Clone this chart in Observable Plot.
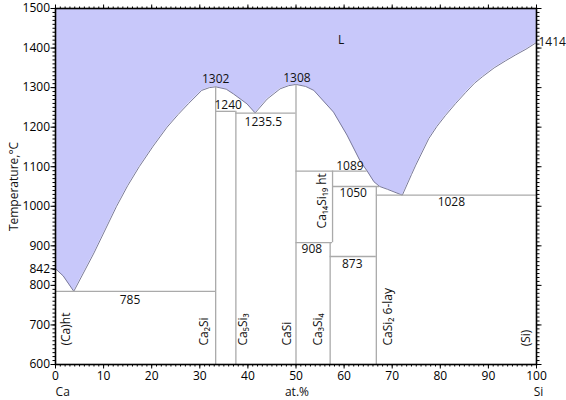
<!DOCTYPE html>
<html>
<head>
<meta charset="utf-8">
<script src="https://cdn.jsdelivr.net/npm/d3@7"></script>
<script src="https://cdn.jsdelivr.net/npm/@observablehq/plot@0.6"></script>
<style>
  body { margin: 0; background: #fff; }
  svg { font-family: "Open Sans", sans-serif; }
</style>
</head>
<body>
<div id="chart"></div>
<script>
// Liquidus curve (at.% Si, °C)
const liqX = [0, 1.6, 3.8, 8, 12.7, 15, 17.4, 20.3, 23.2, 25.5, 27.6, 30.4, 32, 33.3, 35.5, 37, 39.8, 41.5, 44, 46.7, 48.5, 50, 52, 53.7, 57.8, 60.6, 63.4, 64.8, 66.2, 67.4, 69, 71.7, 72.1, 74, 74.9, 77.6, 79.3, 81.1, 83.2, 85.3, 87.1, 88.8, 91.2, 93.6, 95.7, 97.8, 100];
const liqT = [842, 824, 785, 882, 1000, 1052, 1100, 1152, 1200, 1232, 1259, 1293, 1300, 1302, 1296, 1284, 1259, 1236, 1271, 1297, 1305, 1308, 1303, 1293, 1238, 1180, 1113, 1089, 1062, 1050, 1043, 1030, 1028, 1080, 1104, 1171, 1202, 1230, 1260, 1288, 1311, 1328, 1350, 1368, 1383, 1397, 1414];

// Invariant (horizontal) lines
const hT  = [785, 1240, 1235.5, 1089, 1050, 1028, 908, 873];
const hX1 = [0, 33.3, 37.5, 50, 57.6, 66.7, 50, 57.1];
const hX2 = [33.3, 37.5, 50, 64.8, 67.4, 100, 57.6, 66.7];

// Compound (vertical) lines
const vX  = [33.3, 37.5, 50, 57.6, 57.1, 66.7];
const vT1 = [600, 600, 600, 908, 600, 600];
const vT2 = [1302, 1240, 1308, 1089, 908, 1050];

// Temperature labels
const numText = ["1302", "1240", "1235.5", "1308", "1089", "1050", "1028", "908", "873", "785", "L"];
const numX    = [33.3, 35.9, 43.2, 50.2, 61.2, 61.9, 82.3, 53.3, 61.7, 15.5, 59.4];
const numT    = [1322, 1256, 1213, 1324, 1102, 1033, 1011, 891, 853, 763, 1419];

// Phase labels (vertical text)
const phText = ["(Ca)ht", "Ca₂Si", "Ca₅Si₃", "CaSi", "Ca₃Si₄", "Ca₁₄Si₁₉ ht", "CaSi₂ 6-lay", "(Si)"];
const phX    = [2.3, 31.0, 39.0, 48.2, 54.7, 55.4, 69.1, 97.8];
const phT    = [648, 648, 648, 648, 648, 944, 648, 646];

const yTicks = [600, 700, 800, 842, 900, 1000, 1100, 1200, 1300, 1400, 1500];
const xTicks = [0, 10, 20, 30, 40, 50, 60, 70, 80, 90, 100];

const liq = liqX.map((x, i) => ({x, t: liqT[i]}));
const hl = hT.map((t, i) => ({t, x1: hX1[i], x2: hX2[i]}));
const vl = vX.map((x, i) => ({x, t1: vT1[i], t2: vT2[i]}));
const nums = numText.map((s, i) => ({s, x: numX[i], t: numT[i]}));
const phs = phText.map((s, i) => ({s, x: phX[i], t: phT[i]}));

const minorX = d3.range(0, 101, 1);
const minorY = d3.range(600, 1501, 10);
const fs = 12;
const blank = () => "";

const chart = Plot.plot({
  width: 566,
  height: 400,
  marginLeft: 55,
  marginRight: 30,
  marginTop: 8,
  marginBottom: 36,
  style: {color: "black", fontSize: "12px", fontFamily: "Open Sans, sans-serif", background: "white"},
  x: {domain: [0, 100]},
  y: {domain: [600, 1500]},
  marks: [
    Plot.areaY(liq, {x: "x", y1: "t", y2: 1500, fill: "#c8c8fa"}),
    Plot.line(liq, {x: "x", y: "t", stroke: "#7a7a9a", strokeWidth: 1}),
    Plot.ruleY(hl, {y: "t", x1: "x1", x2: "x2", stroke: "#aaaaaa", strokeWidth: 1.3}),
    Plot.ruleX(vl, {x: "x", y1: "t1", y2: "t2", stroke: "#aaaaaa", strokeWidth: 1.3}),
    Plot.text(nums, {x: "x", y: "t", text: "s", fontSize: fs, fill: "#111"}),
    Plot.text(phs, {x: "x", y: "t", text: "s", rotate: -90, textAnchor: "start", fontSize: fs, fill: "#111"}),
    Plot.text(["1414"], {x: 100, y: 1414, text: d => d, dx: 2, textAnchor: "start", fontSize: fs, fill: "#111"}),
    // axes: minor ticks
    Plot.axisX({anchor: "bottom", ticks: minorX, tickSize: 2.5, tickFormat: blank, label: null}),
    Plot.axisX({anchor: "top", ticks: minorX, tickSize: 2.5, tickFormat: blank, label: null}),
    Plot.axisY({anchor: "left", ticks: minorY, tickSize: 2.5, tickFormat: blank, label: null}),
    Plot.axisY({anchor: "right", ticks: minorY, tickSize: 2.5, tickFormat: blank, label: null}),
    // axes: major ticks
    Plot.axisX({anchor: "bottom", ticks: xTicks, tickSize: 4.5, tickPadding: 2, tickFormat: d => String(d), label: null, fontSize: fs}),
    Plot.axisX({anchor: "top", ticks: xTicks, tickSize: 4.5, tickFormat: blank, label: null}),
    Plot.axisY({anchor: "left", ticks: yTicks, tickSize: 4.5, tickPadding: 1, tickFormat: d => String(d), label: null, fontSize: fs}),
    Plot.axisY({anchor: "right", ticks: d3.range(600, 1501, 100), tickSize: 4.5, tickFormat: blank, label: null}),
    Plot.frame({stroke: "black", strokeWidth: 1.6}),
    // axis titles
    Plot.text(["Temperature,°C"], {x: 0, y: 1050, text: d => d, rotate: -90, dx: -41, fontSize: fs, fill: "#111"}),
    Plot.text(["Ca"], {x: 1.5, y: 600, text: d => d, dy: 28, fontSize: fs, fill: "#111"}),
    Plot.text(["at.%"], {x: 50.2, y: 600, text: d => d, dy: 28, fontSize: fs, fill: "#111"}),
    Plot.text(["Si"], {x: 100.4, y: 600, text: d => d, dy: 28, fontSize: fs, fill: "#111"})
  ]
});
document.getElementById("chart").appendChild(chart);
</script>
</body>
</html>
